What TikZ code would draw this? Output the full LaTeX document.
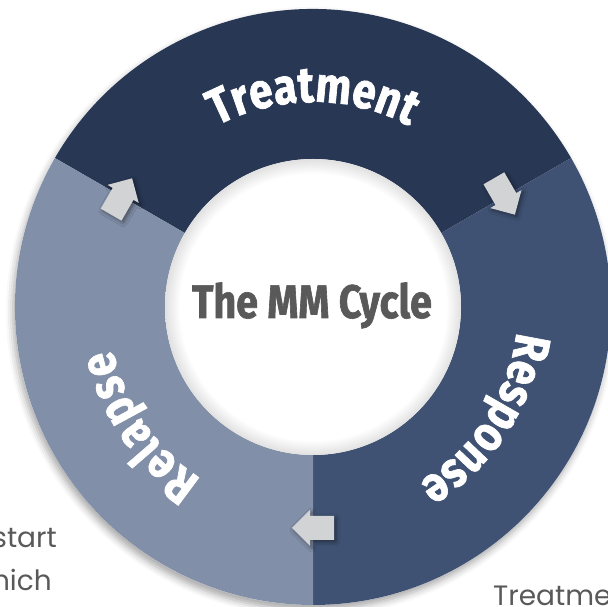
\documentclass[tikz,border=0pt]{standalone}
\usepackage{fontspec}
\newfontfamily\cyclefont[FakeStretch=0.84, BoldFeatures={FakeBold=1.3}]{Fira Sans}
\newfontfamily\notefont{Poppins}
\usetikzlibrary{calc,decorations.text,shadows.blur}

\definecolor{treatcol}{HTML}{283754}
\definecolor{respcol}{HTML}{3F5273}
\definecolor{relcol}{HTML}{828FA8}
\definecolor{arrowcol}{HTML}{D2D3D5}
\definecolor{titlecol}{HTML}{595959}
\pgfdeclareradialshading{innerglow}{\pgfpoint{0bp}{0bp}}{color(0bp)=(white); color(22.5bp)=(white); color(25bp)=(black!12); color(50bp)=(black!12)}

\tikzset{
  ringlabel/.style={decorate, decoration={text effects along path, text={#1},
      text effects/.cd, text along path, fit text to path,
      characters={text=white, font={\cyclefont\bfseries\fontsize{50}{50}\selectfont}}}},
  notetext/.style={text=titlecol, font={\notefont\fontsize{28}{28}\selectfont}, inner sep=0pt},
  cyclearrow/.style={fill=arrowcol, blur shadow={shadow xshift=2pt, shadow yshift=-2pt, shadow opacity=45, shadow blur radius=4pt}},
}

\begin{document}
\begin{tikzpicture}[x=1pt,y=1pt]
  \useasboundingbox (0,0) rectangle (608,607);
  \clip (0,0) rectangle (608,607);
  \coordinate (C) at (313,300);
  % text cut off at the page edges
  \node[notetext, anchor=base east] (notestart) at (57,59) {start};
  \node[notetext, anchor=base east] (notewhich) at (52,16) {hich};
  \node[notetext, anchor=base west] (notetreat) at (493,1) {Treatment};
  % ring shadow
  \fill[white, blur shadow={shadow xshift=-2pt, shadow yshift=-5pt, shadow opacity=35, shadow blur radius=7pt}] (C) circle[radius=298pt];
  % ring segments
  \fill[treatcol] ($(C)+(30:298)$) arc[start angle=30, end angle=150, radius=298pt]
    -- ($(C)+(150:148)$) arc[start angle=150, end angle=30, radius=148pt] -- cycle;
  \fill[respcol] ($(C)+(-90:298)$) arc[start angle=-90, end angle=30, radius=298pt]
    -- ($(C)+(30:148)$) arc[start angle=30, end angle=-90, radius=148pt] -- cycle;
  \fill[relcol] ($(C)+(150:298)$) arc[start angle=150, end angle=270, radius=298pt]
    -- ($(C)+(270:148)$) arc[start angle=270, end angle=150, radius=148pt] -- cycle;
  % inner disc
  \shade[shading=innerglow] (C) circle[radius=148pt];
  \node[text=titlecol, font={\cyclefont\bfseries\fontsize{47}{47}\selectfont}, anchor=base] (title) at (312,289) {The MM Cycle};
  % arrows between the phases
  \foreach \ang in {150,30,270}{
    \begin{scope}[shift={($(C)+(\ang:221)$)}, rotate=\ang-90]
      \fill[cyclearrow] (-21,-12) -- (3,-12) -- (3,-18) -- (21,0) -- (3,18) -- (3,12) -- (-21,12) -- cycle;
    \end{scope}
  }
  % curved labels
  \path[ringlabel=Treatment] ($(C)+(118:205)$) arc[start angle=118, end angle=62, radius=205pt];
  \path[ringlabel=Response] ($(C)+(-7:205)$) arc[start angle=-7, end angle=-59, radius=205pt];
  \path[ringlabel=Relapse] ($(C)+(237:205)$) arc[start angle=237, end angle=192, radius=205pt];
\end{tikzpicture}
\end{document}
